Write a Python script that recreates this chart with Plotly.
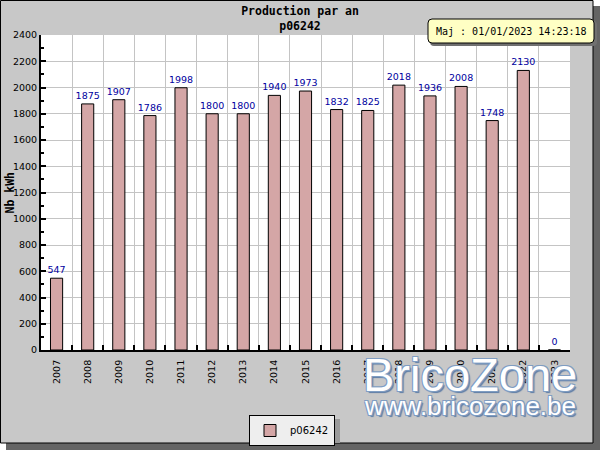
import plotly.graph_objects as go

years = ["2007", "2008", "2009", "2010", "2011", "2012", "2013", "2014", "2015",
         "2016", "2017", "2018", "2019", "2020", "2021", "2022", "2023"]
production = [547, 1875, 1907, 1786, 1998, 1800, 1800, 1940, 1973,
              1832, 1825, 2018, 1936, 2008, 1748, 2130, 0]
series_name = "p06242"
title_lines = ["Production par an", "p06242"]
y_title = "Nb kWh"
maj_text = "Maj : 01/01/2023 14:23:18"

W, H = 600, 450
L, R, T, B = 41, 570, 35, 350


def fx(p):
    return (p - L) / (R - L)


def fy(p):
    return (B - p) / (B - T)


def rrect(x0, y0, x1, y1, r):
    a, b, c, d = fx(x0), fy(y0), fx(x1), fy(y1)
    rx = r / (R - L)
    ry = r / (B - T)
    return (f"M{a+rx},{b} L{c-rx},{b} Q{c},{b} {c},{b-ry} "
            f"L{c},{d+ry} Q{c},{d} {c-rx},{d} L{a+rx},{d} Q{a},{d} {a},{d+ry} "
            f"L{a},{b-ry} Q{a},{b} {a+rx},{b} Z")


fig = go.Figure()
fig.add_trace(go.Bar(
    x=years, y=production, name=series_name,
    marker=dict(color="#D4A6A6", line=dict(color="black", width=1)),
    text=[str(v) for v in production], textposition="outside",
    textfont=dict(color="#0000A0", size=9.5, family="DejaVu Sans"),
    constraintext="none", cliponaxis=False,
))

shapes = [
    dict(type="rect", xref="paper", yref="paper", x0=fx(6), y0=fy(6), x1=fx(600), y1=fy(450),
         fillcolor="#646464", line=dict(width=0), layer="below"),
    dict(type="rect", xref="paper", yref="paper", x0=fx(0.5), y0=fy(0.5), x1=fx(593), y1=fy(443),
         fillcolor="#C8C8C8", line=dict(color="black", width=1), layer="below"),
    dict(type="rect", xref="x domain", yref="y domain", x0=0, y0=0, x1=1, y1=1,
         fillcolor="white", line=dict(width=0), layer="below"),
    # legend shadow
    dict(type="rect", xref="paper", yref="paper", x0=fx(253), y0=fy(419), x1=fx(340), y1=fy(443),
         fillcolor="#9A9A9A", line=dict(width=0), layer="below"),
    # Maj box shadow and box
    dict(type="path", xref="paper", yref="paper", path=rrect(430, 21, 597, 46, 4),
         fillcolor="#707070", line=dict(width=0), layer="above"),
    dict(type="path", xref="paper", yref="paper", path=rrect(428, 19, 594, 43, 4),
         fillcolor="#FFFFC4", line=dict(color="black", width=1), layer="above"),
]

outline = ("-1px -1px 0 #7F9DC2, 1px -1px 0 #7F9DC2, -1px 1px 0 #7F9DC2, "
           "1px 1px 0 #7F9DC2, 2px 2px 1px #5C7CA6")

annotations = [
    dict(text=y_title, xref="paper", yref="paper", x=fx(9), y=0.5, textangle=-90,
         showarrow=False, xanchor="center", yanchor="middle",
         font=dict(family="DejaVu Sans Mono", size=11.5, color="black", weight="bold")),
    dict(text=maj_text, xref="paper", yref="paper", x=fx(434), y=fy(31),
         showarrow=False, xanchor="left", yanchor="middle",
         font=dict(family="DejaVu Sans Mono", size=10, color="black")),
    dict(text="BricoZone", xref="paper", yref="paper", x=fx(470), y=fy(374),
         showarrow=False, xanchor="center", yanchor="middle",
         font=dict(family="Liberation Sans", size=47, color="white", shadow=outline)),
    dict(text="www.bricozone.be", xref="paper", yref="paper", x=fx(470), y=fy(406),
         showarrow=False, xanchor="center", yanchor="middle",
         font=dict(family="Liberation Sans", size=26, color="white", shadow=outline)),
]

fig.update_layout(
    width=W, height=H, autosize=False,
    margin=dict(l=L, r=W - R, t=T, b=H - B, pad=0, autoexpand=False),
    paper_bgcolor="white", plot_bgcolor="white",
    font=dict(family="DejaVu Sans", size=9.5, color="black"),
    title=dict(text="<br>".join(title_lines), xref="container", x=0.5, xanchor="center",
               yref="container", y=1 - 15 / H, yanchor="top",
               font=dict(family="DejaVu Sans Mono", size=11.5, color="black", weight="bold")),
    bargap=0.61,
    showlegend=True,
    legend=dict(xref="container", yref="container", x=249 / W, y=1 - 415 / H,
                xanchor="left", yanchor="top", bgcolor="#EEEEEE", bordercolor="black",
                borderwidth=1, font=dict(family="DejaVu Sans", size=10, color="black")),
    shapes=shapes, annotations=annotations,
)

fig.update_xaxes(type="category", tickangle=-90, showgrid=True, gridcolor="#C4C4C4", gridwidth=1,
                 tickson="boundaries", ticks="inside", ticklen=5, tickwidth=1.5, tickcolor="black",
                 showline=True, linecolor="black", linewidth=2, ticklabelstandoff=4,
                 tickfont=dict(family="DejaVu Sans", size=9.5), zeroline=False, automargin=False)
fig.update_yaxes(range=[0, 2400], dtick=200, tick0=0, showgrid=True, gridcolor="#C4C4C4", gridwidth=1,
                 ticks="inside", ticklen=5, tickwidth=2, tickcolor="black",
                 minor=dict(dtick=100, ticks="inside", ticklen=3, tickwidth=1.5, tickcolor="black",
                            showgrid=False),
                 showline=True, linecolor="black", linewidth=2, zeroline=False, automargin=False,
                 tickfont=dict(family="DejaVu Sans", size=9.5))

fig.write_html("out.html")
